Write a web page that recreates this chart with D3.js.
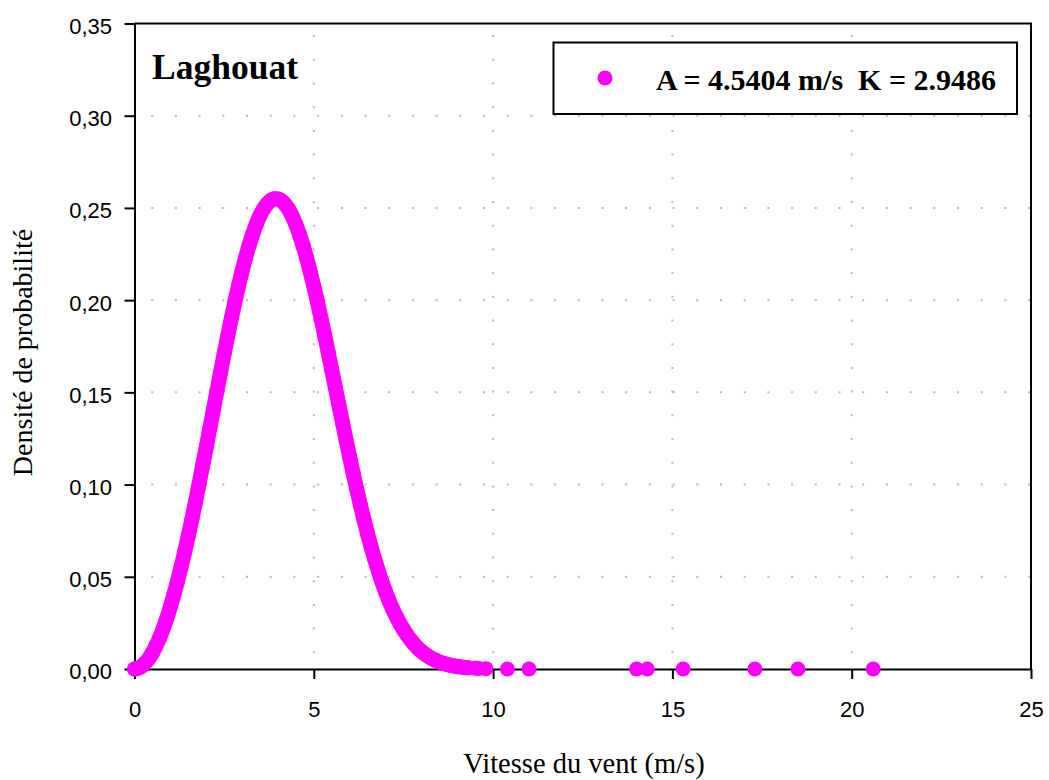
<!DOCTYPE html>
<html>
<head>
<meta charset="utf-8">
<script src="https://cdn.jsdelivr.net/npm/d3@7"></script>
<style>
  body { margin: 0; background: #fff; }
  svg { display: block; }
</style>
</head>
<body>
<svg id="chart" width="1049" height="780"></svg>
<script>
// Wind speed samples (m/s) and the Weibull probability density at each one
const speeds = [
  0, 0.1, 0.2, 0.3, 0.4, 0.5, 0.6, 0.7, 0.8, 0.9,
  1.0, 1.1, 1.2, 1.3, 1.4, 1.5, 1.6, 1.7, 1.8, 1.9,
  2.0, 2.1, 2.2, 2.3, 2.4, 2.5, 2.6, 2.7, 2.8, 2.9,
  3.0, 3.1, 3.2, 3.3, 3.4, 3.5, 3.6, 3.7, 3.8, 3.9,
  4.0, 4.1, 4.2, 4.3, 4.4, 4.5, 4.6, 4.7, 4.8, 4.9,
  5.0, 5.1, 5.2, 5.3, 5.4, 5.5, 5.6, 5.7, 5.8, 5.9,
  6.0, 6.1, 6.2, 6.3, 6.4, 6.5, 6.6, 6.7, 6.8, 6.9,
  7.0, 7.1, 7.2, 7.3, 7.4, 7.5, 7.6, 7.7, 7.8, 7.9,
  8.0, 8.1, 8.2, 8.3, 8.4, 8.5, 8.6, 8.7, 8.8, 8.9,
  9.0, 9.1, 9.2, 9.3, 9.5, 9.6, 9.8,
  10.4, 11.0, 14.0, 14.3, 15.3, 17.3, 18.5, 20.6
];
const density = [
  0.0000, 0.0004, 0.0015, 0.0033, 0.0057, 0.0088, 0.0126, 0.0169, 0.0219, 0.0275,
  0.0337, 0.0404, 0.0476, 0.0554, 0.0636, 0.0722, 0.0812, 0.0906, 0.1003, 0.1102,
  0.1202, 0.1304, 0.1406, 0.1508, 0.1610, 0.1709, 0.1806, 0.1901, 0.1991, 0.2077,
  0.2157, 0.2232, 0.2300, 0.2360, 0.2414, 0.2459, 0.2495, 0.2522, 0.2541, 0.2550,
  0.2549, 0.2539, 0.2520, 0.2492, 0.2455, 0.2410, 0.2356, 0.2296, 0.2228, 0.2154,
  0.2075, 0.1991, 0.1903, 0.1812, 0.1718, 0.1623, 0.1527, 0.1431, 0.1336, 0.1242,
  0.1149, 0.1059, 0.0973, 0.0889, 0.0809, 0.0733, 0.0661, 0.0594, 0.0531, 0.0473,
  0.0419, 0.0370, 0.0325, 0.0284, 0.0247, 0.0214, 0.0184, 0.0158, 0.0135, 0.0114,
  0.0096, 0.0081, 0.0068, 0.0056, 0.0047, 0.0038, 0.0031, 0.0026, 0.0021, 0.0017,
  0.0013, 0.0011, 0.0008, 0.0007, 0.0004, 0.0003, 0.0002,
  0.0000, 0.0000, 0.0000, 0.0000, 0.0000, 0.0000, 0.0000, 0.0000
];

const xTicks = [0, 5, 10, 15, 20, 25];
const yTicks = [0, 0.05, 0.10, 0.15, 0.20, 0.25, 0.30, 0.35];

const stationName = "Laghouat";
const legendLabel = "A = 4.5404 m/s  K = 2.9486";
const xTitle = "Vitesse du vent (m/s)";
const yTitle = "Densité de probabilité";

// Last sample of the continuous run of speeds
const denseLimit = 9.3;

const MAGENTA = "#FF00FF";
const SANS = "'Liberation Sans', Arial, sans-serif";
const SERIF = "'Liberation Serif', 'Times New Roman', serif";

const plot = { left: 134.5, right: 1031, top: 23.5, bottom: 669 };

const svg = d3.select("#chart");

const x = d3.scaleLinear().domain([0, 25]).range([plot.left, plot.right]);
const y = d3.scaleLinear().domain([0, 0.35]).range([plot.bottom, plot.top]);

const points = speeds.map((s, i) => ({ s, d: density[i] }));

// Dotted gridlines
const grid = svg.append("g")
  .attr("stroke", "#b9b9b9")
  .attr("stroke-width", 2)
  .attr("stroke-dasharray", "2 21.7");

grid.selectAll("line.h")
  .data(yTicks.filter(v => v > 0 && v < 0.35))
  .join("line")
  .attr("class", "h")
  .attr("x1", plot.left).attr("x2", plot.right)
  .attr("y1", d => y(d)).attr("y2", d => y(d))
  .attr("stroke-dashoffset", 7);

grid.selectAll("line.v")
  .data(xTicks.filter(v => v > 0 && v < 25))
  .join("line")
  .attr("class", "v")
  .attr("x1", d => x(d)).attr("x2", d => x(d))
  .attr("y1", plot.bottom).attr("y2", plot.top)
  .attr("stroke-dashoffset", 8);

// Top and right edges of the plot frame
svg.append("path")
  .attr("d", `M${plot.left},${plot.top}H${plot.right}V${plot.bottom}`)
  .attr("fill", "none")
  .attr("stroke", "#000")
  .attr("stroke-width", 2);

const fmt = d3.format(".2f");

// Y axis
const yAxis = svg.append("g")
  .attr("transform", `translate(${plot.left},0)`)
  .call(d3.axisLeft(y)
    .tickValues(yTicks)
    .tickFormat(d => fmt(d).replace(".", ","))
    .tickSize(10)
    .tickSizeOuter(0)
    .tickPadding(12.5));

// X axis
const xAxis = svg.append("g")
  .attr("transform", `translate(0,${plot.bottom})`)
  .call(d3.axisBottom(x)
    .tickValues(xTicks)
    .tickFormat(d3.format("d"))
    .tickSize(10)
    .tickSizeOuter(0)
    .tickPadding(22));

[yAxis, xAxis].forEach(g => {
  g.select(".domain").attr("stroke", "#000").attr("stroke-width", 2);
  g.selectAll(".tick line").attr("stroke", "#000").attr("stroke-width", 2);
  g.selectAll(".tick text")
    .attr("fill", "#000")
    .style("font-family", SANS)
    .style("font-size", "22px");
});
yAxis.selectAll(".tick text").attr("dy", "0.45em");

// Axis titles
svg.append("text")
  .attr("x", 584).attr("y", 773)
  .attr("text-anchor", "middle")
  .style("font-family", SERIF)
  .style("font-size", "28.5px")
  .attr("fill", "#000")
  .text(xTitle);

svg.append("text")
  .attr("transform", "translate(32,352.5) rotate(-90)")
  .attr("text-anchor", "middle")
  .style("font-family", SERIF)
  .style("font-size", "28px")
  .attr("fill", "#000")
  .text(yTitle);

// Station name
svg.append("text")
  .attr("x", 152).attr("y", 79)
  .style("font-family", SERIF)
  .style("font-size", "35.5px")
  .style("font-weight", "bold")
  .attr("fill", "#000")
  .text(stationName);

// Density series: the closely spaced samples merge into one thick trace,
// every sample also gets its round marker
const R = 7.5;
const dense = points.filter(p => p.s <= denseLimit);

svg.append("path")
  .datum(dense)
  .attr("d", d3.line().x(p => x(p.s)).y(p => y(p.d)).curve(d3.curveMonotoneX))
  .attr("fill", "none")
  .attr("stroke", MAGENTA)
  .attr("stroke-width", 2 * R)
  .attr("stroke-linecap", "round")
  .attr("stroke-linejoin", "round");

svg.append("g")
  .selectAll("circle")
  .data(points)
  .join("circle")
  .attr("cx", p => x(p.s))
  .attr("cy", p => y(p.d))
  .attr("r", R)
  .attr("fill", MAGENTA);

// Legend
const legend = svg.append("g");
legend.append("rect")
  .attr("x", 553.5).attr("y", 42.5)
  .attr("width", 463.5).attr("height", 71.5)
  .attr("fill", "#fff")
  .attr("stroke", "#000")
  .attr("stroke-width", 2);
legend.append("circle")
  .attr("cx", 605).attr("cy", 78)
  .attr("r", R)
  .attr("fill", MAGENTA);
legend.append("text")
  .attr("x", 656).attr("y", 90)
  .style("font-family", SERIF)
  .style("font-size", "30px")
  .style("font-weight", "bold")
  .style("white-space", "pre")
  .attr("fill", "#000")
  .text(legendLabel);
</script>
</body>
</html>
